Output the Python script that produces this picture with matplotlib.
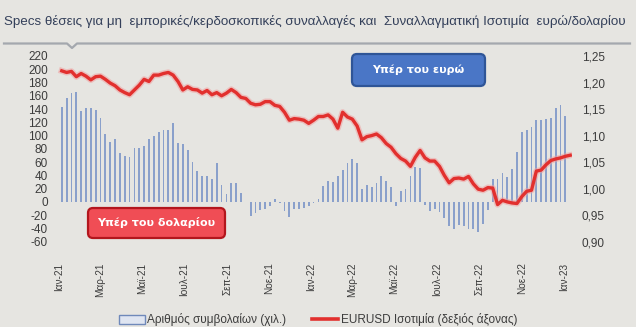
import matplotlib
matplotlib.use("Agg")
import matplotlib.pyplot as plt
import matplotlib.patheffects as pe
from matplotlib.patches import FancyBboxPatch, Patch
from matplotlib.lines import Line2D
import pandas as pd

# Weekly non-commercial net positions (thousand contracts)
positions = [
    143, 156, 164, 166, 137, 141, 141, 139, 127, 103,
    91, 95, 74, 69, 68, 82, 82, 85, 95, 100,
    105, 109, 108, 119, 89, 88, 78, 60, 47, 39,
    39, 35, 58, 25, 12, 28, 29, 13, 0, -21,
    -16, -12, -10, -6, 4, -1, -14, -23, -11, -11,
    -9, -6, -1, 5, 24, 32, 30, 39, 48, 59,
    65, 59, 20, 25, 22, 28, 39, 32, 23, -6,
    17, 20, 39, 53, 51, -5, -14, -10, -15, -24,
    -37, -41, -35, -36, -41, -41, -46, -34, -12, 34,
    35, 44, 37, 49, 75, 106, 109, 113, 123, 123,
    125, 126, 142, 146, 130,
]

# Weekly EUR/USD exchange rate
eurusd = [
    1.222, 1.219, 1.221, 1.211, 1.217, 1.212, 1.205, 1.211, 1.212, 1.206,
    1.199, 1.194, 1.186, 1.181, 1.177, 1.186, 1.195, 1.206, 1.202, 1.214,
    1.214, 1.217, 1.219, 1.214, 1.202, 1.186, 1.192, 1.187, 1.186, 1.180,
    1.185, 1.177, 1.181, 1.175, 1.180, 1.187, 1.181, 1.172, 1.170, 1.161,
    1.158, 1.159, 1.164, 1.164, 1.157, 1.155, 1.144, 1.129, 1.132, 1.131,
    1.129, 1.123, 1.129, 1.136, 1.136, 1.139, 1.131, 1.114, 1.144, 1.135,
    1.131, 1.118, 1.092, 1.098, 1.100, 1.103, 1.096, 1.085, 1.078, 1.066,
    1.057, 1.052, 1.042, 1.059, 1.072, 1.058, 1.052, 1.052, 1.042, 1.025,
    1.011, 1.019, 1.020, 1.018, 1.023, 1.009, 0.999, 0.997, 1.002, 1.001,
    0.970, 0.978, 0.975, 0.973, 0.972, 0.985, 0.995, 0.997, 1.033, 1.035,
    1.045, 1.053, 1.056, 1.058, 1.061, 1.063,
]

bar_dates = pd.date_range("2021-01-05", periods=len(positions), freq="7D")
line_dates = pd.date_range("2021-01-05", periods=len(eurusd), freq="7D")

month_ticks = pd.date_range("2021-01-01", "2023-01-01", freq="2MS")
month_labels = ["Ιαν-21", "Μαρ-21", "Μαϊ-21", "Ιουλ-21", "Σεπ-21", "Νοε-21",
                "Ιαν-22", "Μαρ-22", "Μαϊ-22", "Ιουλ-22", "Σεπ-22", "Νοε-22",
                "Ιαν-23"]

left_ticks = list(range(-60, 221, 20))
right_ticks = [0.90, 0.95, 1.00, 1.05, 1.10, 1.15, 1.20, 1.25]

title = ("Specs θέσεις για μη  εμπορικές/κερδοσκοπικές συναλλαγές και  "
         "Συναλλαγματική Ισοτιμία  ευρώ/δολαρίου")

BG = "#e6e5e1"
TXT = "#3c3c3c"
plt.rcParams["font.family"] = ["Liberation Sans", "DejaVu Sans"]

W, H = 636, 327
fig = plt.figure(figsize=(W / 100, H / 100), dpi=100, facecolor=BG)

ax_l, ax_r_px = 52, 572
ax_top, ax_bot = 56, 241.7
ax = fig.add_axes([ax_l / W, 1 - ax_bot / H, (ax_r_px - ax_l) / W, (ax_bot - ax_top) / H])
ax.set_facecolor(BG)
ax2 = ax.twinx()

# bars, snapped to whole pixels so every week renders with the same width
bars = ax.bar(bar_dates, positions, width=2.6, color="#8aa0cb", linewidth=0,
              zorder=2)
for b in bars:
    b.set_snap(True)

# exchange rate line with a soft halo
ax2.plot(line_dates, eurusd, color="#e2302e", lw=2.4, solid_joinstyle="round",
         path_effects=[pe.Stroke(linewidth=4.5, foreground="#f0a0a0", alpha=0.55),
                       pe.Normal()], zorder=3)

x0 = pd.Timestamp("2021-01-01") - pd.Timedelta(days=(59 - ax_l) / 0.6918)
x1 = pd.Timestamp("2023-01-01") + pd.Timedelta(days=(ax_r_px - 564) / 0.6918)
ax.set_xlim(x0, x1)
ax.set_ylim(-60, 220)
ax2.set_ylim(0.90, 1.25)

ax.set_yticks(left_ticks)
ax.set_yticklabels([str(v) for v in left_ticks])
ax2.set_yticks(right_ticks)
ax2.set_yticklabels([f"{v:.2f}".replace(".", ",") for v in right_ticks])

ax.set_xticks(month_ticks)
ax.set_xticklabels(month_labels, rotation=90, va="top", ha="center")

for a in (ax, ax2):
    for s in a.spines.values():
        s.set_visible(False)
    a.tick_params(length=0, colors=TXT, labelsize=8.5)
ax.tick_params(axis="y", pad=3)
ax2.tick_params(axis="y", pad=7)
ax.tick_params(axis="x", pad=15, labelsize=7.2)

# title and underline with small notch
fig.text(4 / W, 1 - 22 / H, title, fontsize=9.6, color="#34405a",
         va="center", ha="left")
yl = 1 - 43.5 / H
fig.add_artist(Line2D([4 / W, 67 / W, 72 / W, 77 / W, 630 / W],
                      [yl, yl, yl - 4.5 / H, yl, yl],
                      color="#a4a8ae", lw=1.6, transform=fig.transFigure))

# annotation boxes
def label_box(x0p, y0p, x1p, y1p, face, edge, text):
    box = FancyBboxPatch((x0p / 100, (H - y1p) / 100), (x1p - x0p) / 100,
                         (y1p - y0p) / 100,
                         boxstyle="round,pad=0,rounding_size=0.05",
                         facecolor=face, edgecolor=edge, linewidth=1.6,
                         transform=fig.dpi_scale_trans, zorder=5)
    fig.add_artist(box)
    fig.text(((x0p + x1p) / 2) / W, 1 - ((y0p + y1p) / 2) / H, text,
             color="white", fontsize=8, fontweight="bold", ha="center",
             va="center", family="DejaVu Sans", zorder=6)

label_box(352, 54, 485, 86, "#4a76c6", "#2f5597", "Υπέρ του ευρώ")
label_box(88, 208, 225, 238, "#f04d55", "#b3161d", "Υπέρ του δολαρίου")

# legend
handles = [Patch(facecolor="#dfe5f1", edgecolor="#6f89ba", linewidth=1.0),
           Line2D([], [], color="#e2302e", lw=2.6)]
labels = ["Αριθμός συμβολαίων (χιλ.)", "EURUSD Ισοτιμία (δεξιός άξονας)"]
fig.legend(handles, labels, loc="center", bbox_to_anchor=(318 / W, 1 - 320 / H),
           ncol=2, frameon=False, fontsize=8.5, handlelength=2.2,
           handleheight=0.7, handletextpad=0.2, columnspacing=2.2,
           labelcolor=TXT)

fig.savefig("out.png", dpi=100, facecolor=BG)
